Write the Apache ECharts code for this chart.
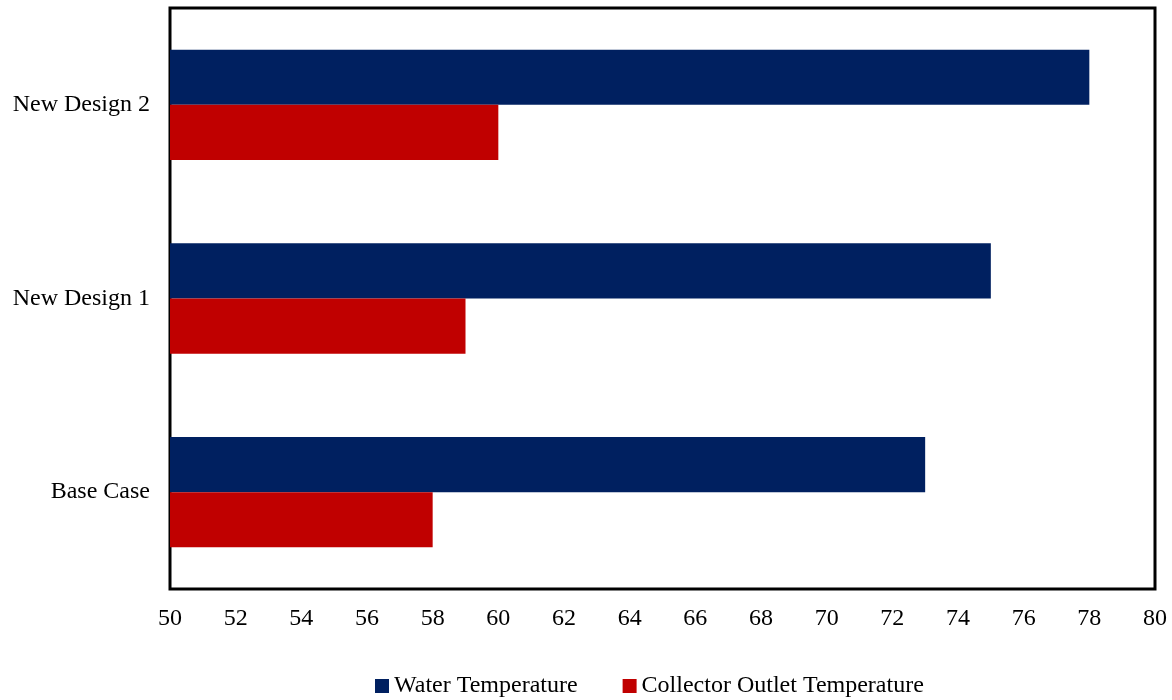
<!DOCTYPE html>
<html lang="en">
	<head>
		<meta charset="UTF-8">
		<title>Temperature comparison</title>
		<script src="https://cdn.jsdelivr.net/npm/echarts@6/dist/echarts.min.js"></script>
		<style>
			html, body {
				margin: 0;
				padding: 0;
				background: #fff;
			}
			#main {
				width: 1172px;
				height: 700px;
			}
		</style>
	</head>

	<body>
		<div id="main"></div>
	</body>

	<script>
		let categories = ["Base Case", "New Design 1", "New Design 2"];
		let waterTemp = [73, 75, 78];
		let collectorTemp = [58, 59, 60];
		let xTicks = [50, 80, 2];

		let font = "'Liberation Serif', 'Times New Roman', serif";

		let option = {
			animation: false,
			textStyle: {
				fontFamily: font
			},
			grid: {
				left: 170,
				right: 17,
				top: 8,
				bottom: 111,
				show: true,
				borderColor: '#000',
				borderWidth: 3,
				containLabel: false
			},
			legend: {
				bottom: -3,
				left: 370,
				itemWidth: 14,
				itemHeight: 14,
				itemGap: 45,
				icon: 'rect',
				textStyle: {
					fontFamily: font,
					fontSize: 24,
					color: '#000'
				},
				data: ["Water Temperature", "Collector Outlet Temperature"]
			},
			xAxis: {
				type: 'value',
				min: xTicks[0],
				max: xTicks[1],
				interval: xTicks[2],
				axisLine: { show: false },
				axisTick: { show: false },
				splitLine: { show: false },
				axisLabel: {
					color: '#000',
					fontSize: 24,
					fontFamily: font,
					margin: 18
				}
			},
			yAxis: {
				type: 'category',
				data: categories,
				axisLine: { show: false },
				axisTick: { show: false },
				axisLabel: {
					color: '#000',
					fontSize: 24,
					fontFamily: font,
					margin: 20,
					lineHeight: 28,
					verticalAlign: 'middle',
					padding: [5, 0, 0, 0]
				}
			},
			series: [{
				name: "Water Temperature",
				type: 'bar',
				data: waterTemp,
				barGap: '0%',
				barCategoryGap: '43%',
				itemStyle: { color: '#002060' }
			}, {
				name: "Collector Outlet Temperature",
				type: 'bar',
				data: collectorTemp,
				barGap: '0%',
				barCategoryGap: '43%',
				itemStyle: { color: '#C00000' }
			}]
		};

		let echart = echarts.init(document.getElementById("main"));
		echart.setOption(option);
	</script>
</html>
